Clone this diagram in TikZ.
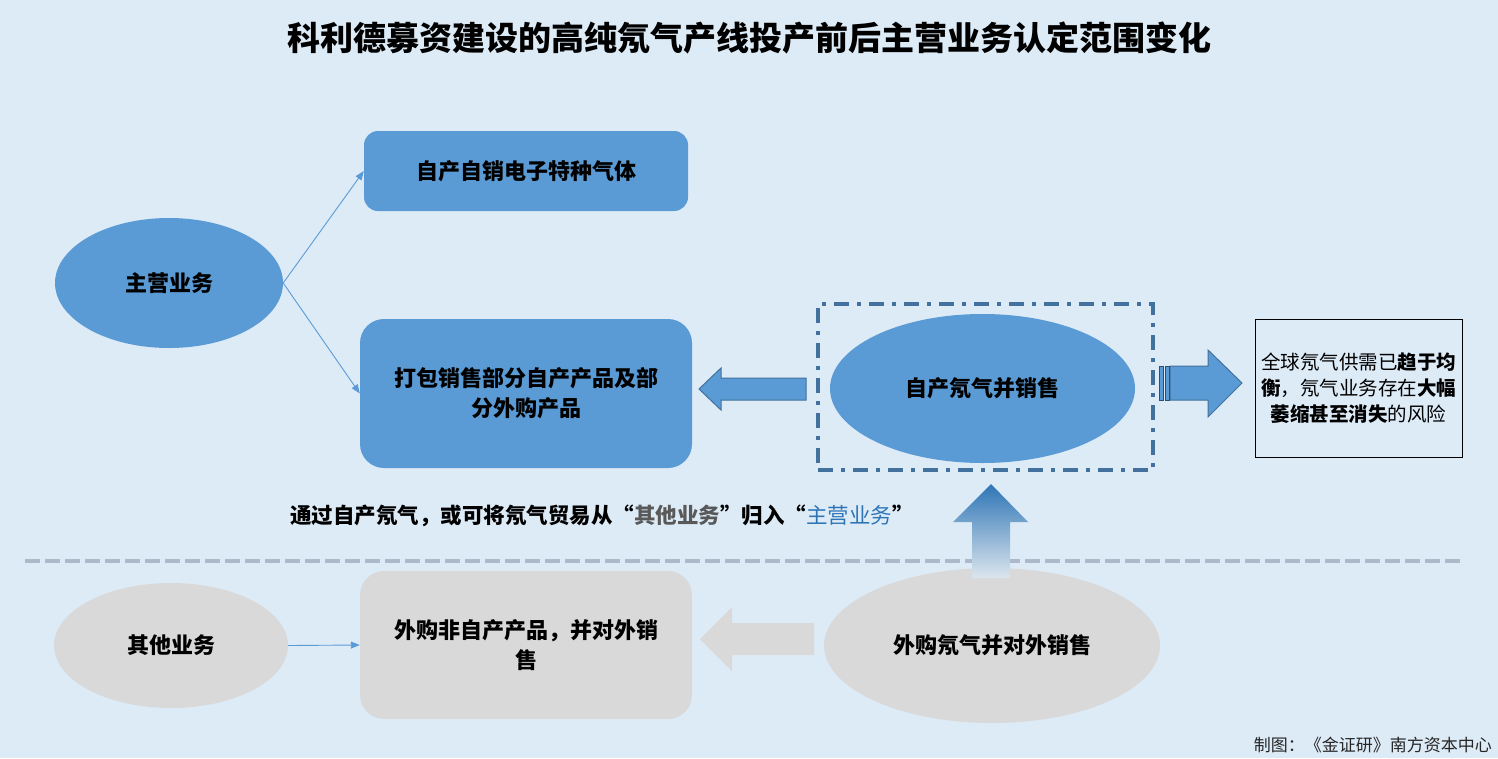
\documentclass[tikz,border=0pt]{standalone}
\usepackage{fontspec}
\setmainfont{Noto Sans CJK SC}
\usetikzlibrary{shapes.geometric,arrows.meta}
\definecolor{bg}{HTML}{DDEBF7}
\definecolor{mblue}{HTML}{5B9BD5}
\definecolor{dblue}{HTML}{41719C}
\definecolor{lgray}{HTML}{D9D9D9}
\definecolor{sepc}{HTML}{ADB9CA}
\definecolor{qblue}{HTML}{2E75B6}
\definecolor{qgray}{HTML}{595959}
\begin{document}
\begin{tikzpicture}[x=1pt,y=-1pt,
 ell/.style={ellipse, inner sep=0pt, font=\fontsize{22}{26}\selectfont\bfseries},
 rbox/.style={rectangle, inner sep=0pt, align=center, font=\fontsize{22}{30}\selectfont\bfseries},
 thinarr/.style={draw=mblue, line width=0.9pt, -{Triangle[length=9pt,width=7pt]}},
 blockarr/.style={fill=mblue, draw=dblue, line width=1pt},
]
\fill[bg] (0,0) rectangle (1498,758);
\useasboundingbox (0,0) rectangle (1498,758);

\node[font=\fontsize{33}{37}\selectfont\bfseries, inner sep=0pt] (title) at (749,38) {科利德募资建设的高纯氖气产线投产前后主营业务认定范围变化};

% upper part
\node[ell, fill=mblue, minimum width=228pt, minimum height=130pt] (main) at (169,283) {主营业务};
\node[rbox, fill=mblue, rounded corners=14pt, minimum width=324pt, minimum height=80pt] (b1) at (526,171) {自产自销电子特种气体};
\node[rbox, fill=mblue, rounded corners=24pt, minimum width=332pt, minimum height=149pt] (b2) at (526,393.5) {打包销售部分自产产品及部\\分外购产品};
\draw[thinarr] (main.east) -- (b1.west);
\draw[thinarr] (main.east) -- (b2.west);

\node[draw=dblue, line width=3.5pt, dash pattern=on 15pt off 8pt on 4pt off 8pt, minimum width=335pt, minimum height=166pt, inner sep=0pt] (frame) at (985.5,387) {};
\node[ell, fill=mblue, minimum width=305pt, minimum height=149pt] (self) at (982.5,388.5) {自产氖气并销售};

% left blue block arrow
\filldraw[blockarr] (806,378) -- (721,378) -- (721,368) -- (699,389) -- (721,410) -- (721,400) -- (806,400) -- cycle;

% right striped block arrow
\filldraw[blockarr] (1170,366) -- (1208,366) -- (1208,350) -- (1242,383) -- (1208,417) -- (1208,400) -- (1170,400) -- cycle;
\filldraw[fill=mblue, draw=dblue!70!black, line width=0.8pt] (1159.5,366) rectangle (1163.5,400);
\filldraw[fill=mblue, draw=dblue!70!black, line width=0.8pt] (1165,366) rectangle (1169,400);

\node[draw=black, line width=0.9pt, fill=bg, minimum width=207pt, minimum height=138pt, inner sep=0pt, align=center, font=\fontsize{19.5}{26}\selectfont] (risk) at (1358.5,388) {全球氖气供需已\textbf{趋于均}\\\textbf{衡}，氖气业务存在\textbf{大幅}\\\textbf{萎缩甚至消失}的风险};

\node[anchor=west, font=\fontsize{21.5}{24}\selectfont\bfseries, inner sep=0pt] (note) at (290,516) {通过自产氖气，或可将氖气贸易从“{\color{qgray}其他业务}”归入“{\color{qblue}\mdseries 主营业务}”};

% separator
\coordinate (sepL) at (25,561);
\coordinate (sepR) at (1462,561);
\draw[sepc, line width=4pt, dash pattern=on 15pt off 5pt] (sepL) -- (sepR);

% lower part
\node[ell, fill=lgray, minimum width=234pt, minimum height=125pt] (other) at (171,645.5) {其他业务};
\node[rbox, fill=lgray, rounded corners=24pt, minimum width=332pt, minimum height=148pt] (b3) at (526,645) {外购非自产产品，并对外销\\售};
\draw[thinarr] (other.east) -- (b3.west);
\node[ell, fill=lgray, minimum width=336pt, minimum height=155pt] (buy) at (992,645.5) {外购氖气并对外销售};
\fill[lgray] (814,623) -- (732,623) -- (732,607) -- (700,639) -- (732,671) -- (732,655) -- (814,655) -- cycle;

% gradient up arrow
\shade[top color=qblue, bottom color=bg!70!lgray] (972,578) -- (972,522) -- (953,522) -- (991,484) -- (1028,522) -- (1010,522) -- (1010,578) -- cycle;

\node[anchor=east, font=\fontsize{17}{20}\selectfont, text=black!85, inner sep=0pt] (credit) at (1492,745) {制图：《金证研》南方资本中心};
\end{tikzpicture}
\end{document}
